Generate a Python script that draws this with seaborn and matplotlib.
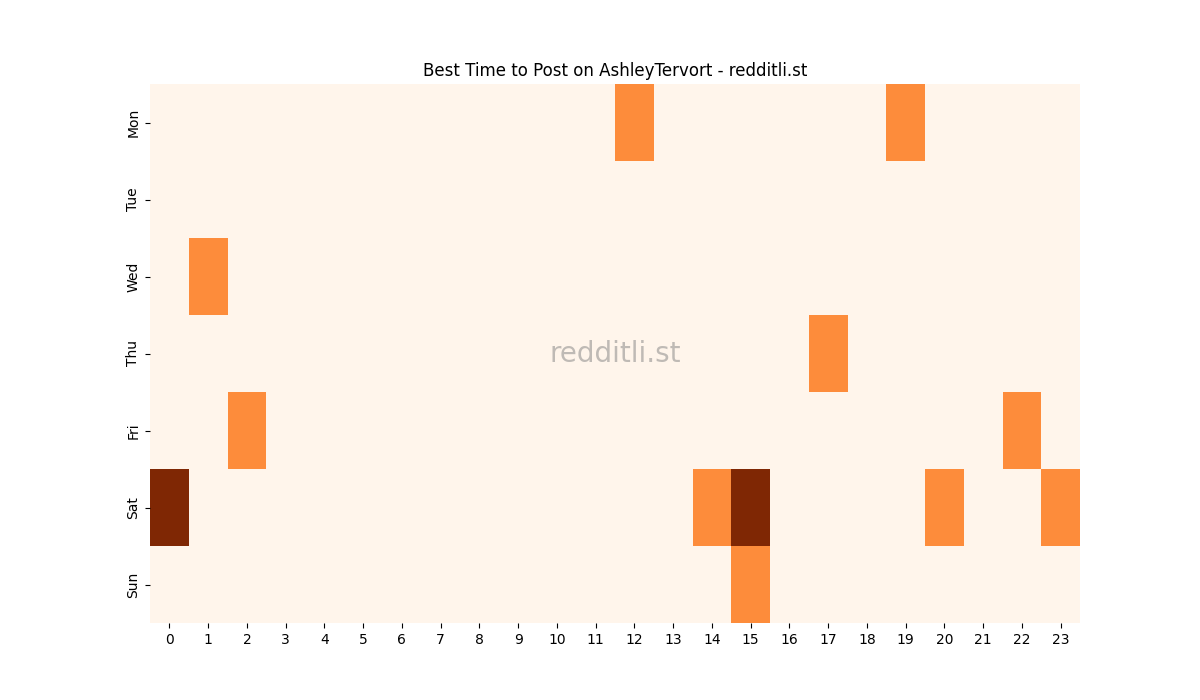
import numpy as np
import pandas as pd
import matplotlib
matplotlib.use('Agg')
import matplotlib.pyplot as plt
import seaborn as sns

days = ['Mon', 'Tue', 'Wed', 'Thu', 'Fri', 'Sat', 'Sun']
hours = list(range(24))

# number of top posts per (day, hour) slot
mon = [0]*12 + [1] + [0]*6 + [1] + [0]*4
tue = [0]*24
wed = [0, 1] + [0]*22
thu = [0]*17 + [1] + [0]*6
fri = [0, 0, 1] + [0]*19 + [1, 0]
sat = [2] + [0]*13 + [1, 2] + [0]*4 + [1, 0, 0, 1]
sun = [0]*15 + [1] + [0]*8

df = pd.DataFrame([mon, tue, wed, thu, fri, sat, sun], index=days, columns=hours)

fig, ax = plt.subplots(figsize=(12, 7), dpi=100)
sns.heatmap(df, cmap='Oranges', cbar=False, ax=ax)
ax.set_title('Best Time to Post on AshleyTervort - redditli.st')
plt.yticks(rotation=90)
ax.text(0.5, 0.5, 'redditli.st', transform=ax.transAxes, fontsize=20,
        color='gray', alpha=0.5, ha='center', va='center')
plt.savefig('out.png')
